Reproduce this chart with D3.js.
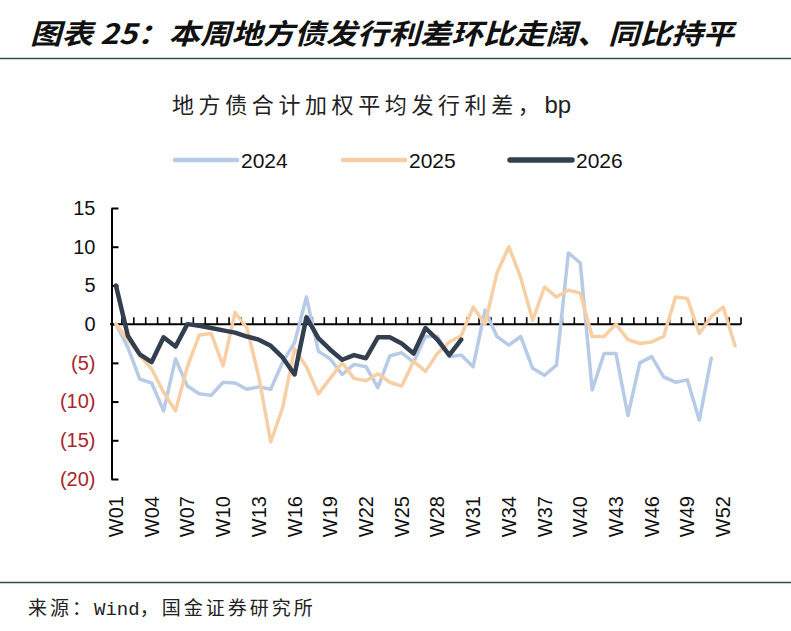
<!doctype html>
<html>
<head>
<meta charset="UTF-8">
<title>地方债发行利差</title>
<script src="https://d3js.org/d3.v7.min.js"></script>
<style>
  body { margin: 0; background: #fff; }
  svg { display: block; }
  .cn { font-family: "Noto Sans CJK SC", sans-serif; }
  .num { font-family: "Liberation Sans", Arial, sans-serif; }
  .mono { font-family: "Liberation Mono", monospace; }
</style>
</head>
<body>
<script>
// week categories W01..W53
var weeks = d3.range(1, 54).map(function(i) { return 'W' + (i < 10 ? '0' + i : i); });
var labelWeeks = weeks.filter(function(d, i) { return i % 3 === 0; });

// values, bp
var s2024 = [0, -3, -7.1, -7.6, -11.2, -4.5, -8, -9, -9.2, -7.5,
             -7.6, -8.4, -8.1, -8.4, -4.9, -2.4, 3.5, -3.5, -4.5, -6.5,
             -5.2, -5.5, -8.2, -4.1, -3.7, -4.9, -1.6, -1.6, -4.2, -4.0,
             -5.5, 1.8, -1.6, -2.7, -1.6, -5.7, -6.6, -5.3, 9.2, 7.9,
             -8.5, -3.8, -3.8, -11.8, -5, -4.2, -6.8, -7.5, -7.2, -12.4,
             -4.4];
var s2025 = [0, -2, -4, -5.8, -8.8, -11.2, -5.5, -1.4, -1.2, -5.4,
             1.5, -0.5, -6.8, -15.2, -10.8, -3.2, -5.5, -9, -7, -5,
             -7, -7.3, -6.4, -7.5, -8, -4.8, -6.1, -3.8, -2.3, -1.5,
             2.2, 0, 6.6, 10, 6, 0.5, 4.8, 3.5, 4.4, 4,
             -1.6, -1.6, 0, -2, -2.5, -2.3, -1.6, 3.5, 3.3, -1.2,
             1, 2.2, -2.8];
var s2026 = [5, -1.5, -3.9, -4.9, -1.7, -2.9, 0, -0.2, -0.5, -0.8,
             -1.1, -1.6, -2.0, -2.8, -4.3, -6.5, 0.9, -1.8, -3.3, -4.6,
             -4.0, -4.4, -1.7, -1.7, -2.5, -3.8, -0.5, -2.0, -4.0, -2.0];

var seriesNames = ['2024', '2025', '2026'];
var seriesValues = [s2024, s2025, s2026];
var seriesColors = ['#b7cbe6', '#f8cfa5', '#333f4f'];
var seriesWidths = [3.5, 3.5, 4.5];
var yTicks = [15, 10, 5, 0, -5, -10, -15, -20];

var W = 791, H = 631;
var svg = d3.select('body').append('svg')
    .attr('width', W)
    .attr('height', H);

// header
svg.append('text')
    .attr('class', 'cn')
    .attr('x', 30).attr('y', 44)
    .attr('font-size', 28)
    .attr('font-weight', 'bold')
    .attr('font-style', 'italic')
    .attr('fill', '#111')
    .attr('textLength', 704)
    .attr('lengthAdjust', 'spacingAndGlyphs')
    .text('图表 25：本周地方债发行利差环比走阔、同比持平');

svg.append('line')
    .attr('x1', 0).attr('x2', W)
    .attr('y1', 58.5).attr('y2', 58.5)
    .attr('stroke', '#2f4f4f')
    .attr('stroke-width', 1.5);

var sub = svg.append('text')
    .attr('x', 172).attr('y', 113)
    .attr('fill', '#222');
sub.append('tspan')
    .attr('class', 'cn')
    .attr('font-size', 22)
    .attr('letter-spacing', 4.6)
    .text('地方债合计加权平均发行利差，');
sub.append('tspan')
    .attr('class', 'num')
    .attr('font-size', 24)
    .text('bp');

// legend
var legendX = [175, 343, 510];
var legend = svg.selectAll('.legend')
    .data(seriesNames)
    .enter().append('g')
    .attr('class', 'legend')
    .attr('transform', function(d, i) { return 'translate(' + legendX[i] + ',160)'; });
legend.append('line')
    .attr('x1', 0).attr('x2', 62)
    .attr('stroke', function(d, i) { return seriesColors[i]; })
    .attr('stroke-width', function(d, i) { return seriesWidths[i] + 1; })
    .attr('stroke-linecap', 'round');
legend.append('text')
    .attr('class', 'num')
    .attr('x', 66).attr('y', 7.5)
    .attr('font-size', 21)
    .attr('fill', '#111')
    .text(function(d) { return d; });

// scales
var x = d3.scaleBand().domain(weeks).range([110, 741]).padding(0);
var y = d3.scaleLinear().domain([-20, 15]).range([479, 208]);
var cx = function(i) { return x(weeks[i]) + x.bandwidth() / 2; };

// y axis
var yAxis = d3.axisLeft(y)
    .tickValues(yTicks)
    .tickSizeInner(-7)
    .tickSizeOuter(0)
    .tickPadding(16)
    .tickFormat(function(d) { return d < 0 ? '(' + (-d) + ')' : d; });
var gy = svg.append('g')
    .attr('transform', 'translate(111.5,0)')
    .call(yAxis);
gy.selectAll('path, line').attr('stroke', '#000').attr('stroke-width', 2);
gy.selectAll('text')
    .attr('class', 'num')
    .attr('font-size', 20)
    .attr('fill', function(d) { return d < 0 ? '#a8262c' : '#111'; });

// x axis along zero, ticks at category boundaries pointing up
var gx = svg.append('g');
gx.append('line')
    .attr('x1', x.range()[0]).attr('x2', x.range()[1])
    .attr('y1', y(0)).attr('y2', y(0))
    .attr('stroke', '#000').attr('stroke-width', 2);
gx.selectAll('.xtick')
    .data(weeks.slice(1).map(function(d) { return x(d); }).concat([x.range()[1]]))
    .enter().append('line')
    .attr('class', 'xtick')
    .attr('x1', function(d) { return d; }).attr('x2', function(d) { return d; })
    .attr('y1', y(0)).attr('y2', y(0) - 7)
    .attr('stroke', '#000').attr('stroke-width', 1.6);

svg.selectAll('.xlab')
    .data(labelWeeks)
    .enter().append('text')
    .attr('class', 'num xlab')
    .attr('font-size', 20)
    .attr('fill', '#111')
    .attr('text-anchor', 'end')
    .attr('transform', function(d) {
        return 'translate(' + (x(d) + x.bandwidth() / 2 + 7) + ',496) rotate(-90)';
    })
    .text(function(d) { return d; });

// series
var line = d3.line()
    .x(function(d, i) { return cx(i); })
    .y(function(d) { return y(d); });

svg.selectAll('.series')
    .data(seriesValues)
    .enter().append('path')
    .attr('class', 'series')
    .attr('d', line)
    .attr('fill', 'none')
    .attr('stroke', function(d, i) { return seriesColors[i]; })
    .attr('stroke-width', function(d, i) { return seriesWidths[i]; })
    .attr('stroke-linejoin', 'round')
    .attr('stroke-linecap', 'round');

// footer
svg.append('line')
    .attr('x1', 0).attr('x2', W)
    .attr('y1', 582.5).attr('y2', 582.5)
    .attr('stroke', '#2f4f4f')
    .attr('stroke-width', 1.5);

var foot = svg.append('text')
    .attr('x', 28).attr('y', 615)
    .attr('font-size', 19)
    .attr('fill', '#222');
foot.append('tspan').attr('class', 'cn').attr('letter-spacing', 3).text('来源：');
foot.append('tspan').attr('class', 'mono').text('Wind');
foot.append('tspan').attr('class', 'cn').attr('letter-spacing', 3).text('，国金证券研究所');
</script>
</body>
</html>
